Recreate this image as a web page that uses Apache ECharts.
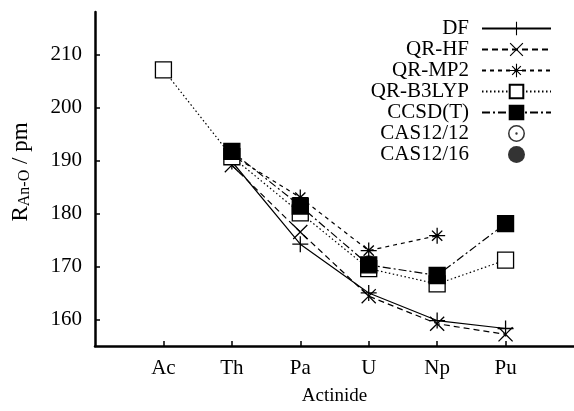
<!DOCTYPE html>
<html><head><meta charset="utf-8">
<script src="https://cdn.jsdelivr.net/npm/echarts@6/dist/echarts.min.js"></script>
<style>html,body{margin:0;padding:0;background:#fff}#c{width:574px;height:411px}</style>
</head><body><div id="c"></div>
<script>
const categories = ['Ac','Th','Pa','U','Np','Pu'];
const yTicks = [160,170,180,190,200,210];
const DF      = [null, 189.8, 174.2, 165.0, 159.8, 158.3];
const QR_HF   = [null, 189.1, 176.5, 164.4, 159.2, 157.2];
const QR_MP2  = [null, 191.0, 183.0, 173.0, 175.8, null];
const QR_B3LYP= [207.1, 190.7, 180.1, 169.6, 166.7, 171.2];
const CCSDT   = [null, 191.7, 181.4, 170.3, 168.3, 178.1];
const CAS1212 = [null, null, null, 170.0, 167.8, null];
const CAS1216 = [null, null, null, 170.7, 168.5, null];

const FONT = 'Liberation Serif';
const plusPath = 'path://M46 0H54V46H100V54H54V100H46V54H0V46H46Z';
const xPath = 'path://M0 6L6 0L50 44L94 0L100 6L56 50L100 94L94 100L50 56L6 100L0 94L44 50Z';
const starPath = 'path://M46 0H54V46H100V54H54V100H46V54H0V46H46Z M15 21L21 15L50 44L79 15L85 21L56 50L85 79L79 85L50 56L21 85L15 79L44 50Z';
const ringDot = 'path://M50 0A50 50 0 1 1 50 100A50 50 0 1 1 50 0Z M50 9A41 41 0 1 0 50 91A41 41 0 1 0 50 9Z M50 43A7 7 0 1 1 50 57A7 7 0 1 1 50 43Z';

function pts(arr){ const o=[]; arr.forEach((v,i)=>{ if(v!==null) o.push([i+1,v]); }); return o; }

function lineSeries(name, arr, symbol, size, dash, fill){
  return {
    name, type:'line', data: pts(arr), symbol, symbolSize: size,
    lineStyle:{color:'#000', width:1.2, type: dash},
    itemStyle:{color: fill, borderColor:'#000', borderWidth: (symbol==='rect')?1.3:0},
    emphasis:{disabled:true}, animation:false
  };
}

const series = [
  lineSeries('DF', DF, plusPath, 16, 'solid', '#000'),
  lineSeries('QR-HF', QR_HF, xPath, 15, [6,4], '#000'),
  lineSeries('QR-MP2', QR_MP2, starPath, 16, [4,4], '#000'),
  lineSeries('QR-B3LYP', QR_B3LYP, 'rect', 16, [1.5,2.5], '#fff'),
  lineSeries('CCSD(T)', CCSDT, 'rect', 16, [8,3,2,3], '#000'),
  {name:'CAS12/12', type:'scatter', data: pts(CAS1212), symbol: ringDot, symbolSize: 15,
   itemStyle:{color:'#000'}, emphasis:{disabled:true}, animation:false},
  {name:'CAS12/16', type:'scatter', data: pts(CAS1216), symbol:'circle', symbolSize: 15,
   itemStyle:{color:'#000'}, emphasis:{disabled:true}, animation:false}
];

const chart = echarts.init(document.getElementById('c'), null, {renderer:'canvas'});
chart.setOption({
  animation:false,
  backgroundColor:'#fff',
  textStyle:{fontFamily:FONT, color:'#000'},
  grid:{left:95, top:12, width:482, height:338, containLabel:false},
  legend:{
    orient:'vertical', right:22, top:18, align:'right', padding:0,
    itemWidth:69, itemHeight:17, itemGap:0,
    selectedMode:false,
    textStyle:{fontFamily:FONT, fontSize:21, color:'#000', lineHeight:21, padding:[0,8,0,0]},
    data: series.map(s=>s.name)
  },
  xAxis:{
    type:'value', min:0, max:7,
    name:'Actinide', nameLocation:'middle', nameGap:41,
    nameTextStyle:{fontFamily:FONT, fontSize:19, color:'#000'},
    axisLine:{lineStyle:{color:'#000', width:2.5}},
    axisTick:{inside:true, length:5, customValues:[1,2,3,4,5,6], lineStyle:{color:'#000', width:1.5}},
    axisLabel:{customValues:[1,2,3,4,5,6], formatter:v=>categories[v-1], fontFamily:FONT, fontSize:21, color:'#000', margin:12},
    splitLine:{show:false}
  },
  yAxis:{
    type:'value', min:155, max:218,
    name:'{n|R}{s|An-O}{n| / pm}', nameLocation:'middle', nameGap:62, nameRotate:90,
    nameTextStyle:{fontFamily:FONT, color:'#000', padding:[0,0,0,14],
      rich:{n:{fontFamily:FONT, fontSize:23, color:'#000'}, s:{fontFamily:FONT, fontSize:16, color:'#000', padding:[9,0,0,0]}}},
    axisLine:{show:true, lineStyle:{color:'#000', width:2.5}},
    axisTick:{show:true, inside:true, length:5, customValues:yTicks, lineStyle:{color:'#000', width:1.5}},
    axisLabel:{customValues:yTicks, fontFamily:FONT, fontSize:21, color:'#000', margin:13},
    splitLine:{show:false}
  },
  series
});
</script></body></html>
